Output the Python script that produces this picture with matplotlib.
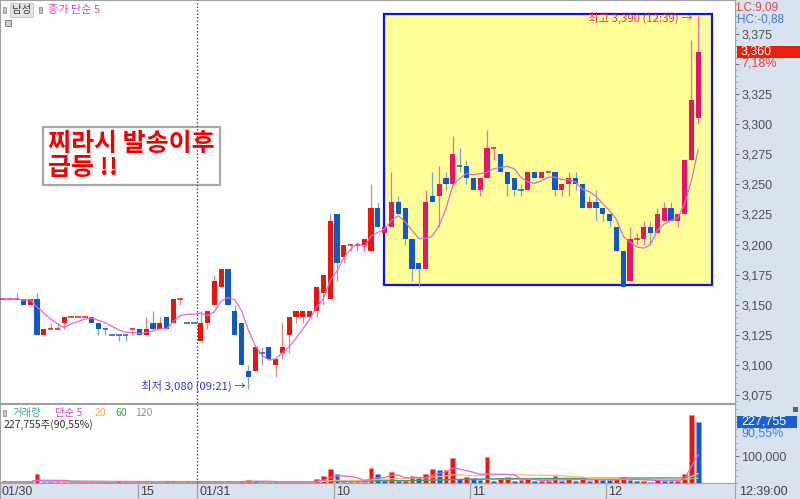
import numpy as np
import pandas as pd
import matplotlib
matplotlib.use('Agg')
from matplotlib import pyplot as plt
from matplotlib.patches import Rectangle
from matplotlib.ticker import FixedLocator, MultipleLocator, FuncFormatter

KR = ['Noto Sans CJK KR', 'DejaVu Sans']
NUM = ['Liberation Sans Narrow', 'Liberation Sans', 'DejaVu Sans']

# 3-minute candles: 01/30 afternoon (0..28) then 01/31 09:00 - 12:39 (29..102)
opens = [3155, 3155, 3155, 3155, 3150, 3155, 3125, 3130, 3130, 3135,
         3140, 3140, 3140, 3140, 3135, 3130, 3125, 3125, 3125, 3130,
         3130, 3125, 3135, 3130, 3140, 3135, 3155, 3135, 3135,
         3120, 3135, 3150, 3165, 3180, 3145, 3135, 3095, 3095, 3110,
         3115, 3100, 3110, 3125, 3140, 3140, 3140, 3145, 3160, 3155,
         3225, 3190, 3200, 3200, 3200, 3195, 3230, 3210, 3215, 3235,
         3230, 3205, 3185, 3180, 3240, 3240, 3255, 3250, 3265, 3265,
         3255, 3245, 3255, 3280, 3275, 3260, 3255, 3245, 3245, 3260,
         3255, 3260, 3260, 3245, 3250, 3255, 3250, 3230, 3235, 3230,
         3225, 3215, 3195, 3170, 3205, 3205, 3215, 3210, 3220, 3230,
         3220, 3225, 3270, 3305]
highs = [3155, 3155, 3160, 3155, 3155, 3160, 3130, 3135, 3135, 3140,
         3140, 3140, 3140, 3140, 3135, 3130, 3125, 3125, 3125, 3130,
         3130, 3140, 3145, 3140, 3140, 3155, 3155, 3135, 3135,
         3145, 3145, 3175, 3180, 3180, 3150, 3135, 3100, 3115, 3115,
         3115, 3105, 3135, 3140, 3145, 3145, 3145, 3165, 3175, 3225,
         3225, 3200, 3200, 3200, 3205, 3250, 3235, 3215, 3260, 3240,
         3230, 3205, 3185, 3245, 3260, 3265, 3260, 3290, 3280, 3270,
         3255, 3255, 3295, 3280, 3275, 3260, 3255, 3250, 3260, 3260,
         3260, 3260, 3260, 3250, 3260, 3260, 3250, 3240, 3245, 3230,
         3225, 3215, 3195, 3215, 3210, 3220, 3220, 3230, 3235, 3235,
         3225, 3270, 3370, 3390]
lows = [3155, 3155, 3155, 3150, 3150, 3125, 3125, 3130, 3130, 3130,
        3140, 3140, 3140, 3135, 3125, 3125, 3125, 3120, 3120, 3125,
        3125, 3125, 3130, 3130, 3130, 3135, 3150, 3135, 3135,
        3120, 3130, 3150, 3165, 3150, 3125, 3100, 3080, 3095, 3100,
        3105, 3090, 3105, 3110, 3135, 3135, 3140, 3140, 3150, 3155,
        3170, 3185, 3195, 3195, 3195, 3195, 3215, 3210, 3215, 3225,
        3200, 3170, 3165, 3180, 3235, 3215, 3245, 3250, 3260, 3250,
        3245, 3240, 3255, 3270, 3260, 3240, 3240, 3240, 3245, 3255,
        3255, 3260, 3240, 3240, 3240, 3245, 3230, 3230, 3220, 3220,
        3215, 3195, 3165, 3170, 3200, 3200, 3200, 3210, 3220, 3220,
        3215, 3225, 3270, 3300]
closes = [3155, 3155, 3155, 3150, 3155, 3125, 3130, 3130, 3130, 3140,
          3140, 3140, 3140, 3135, 3130, 3130, 3125, 3125, 3125, 3130,
          3125, 3130, 3130, 3135, 3130, 3155, 3155, 3135, 3135,
          3135, 3145, 3170, 3180, 3150, 3125, 3100, 3090, 3115, 3110,
          3105, 3105, 3115, 3140, 3145, 3145, 3145, 3165, 3175, 3220,
          3185, 3200, 3200, 3200, 3205, 3230, 3215, 3215, 3235, 3225,
          3205, 3180, 3180, 3235, 3235, 3250, 3250, 3275, 3265, 3255,
          3245, 3255, 3280, 3280, 3260, 3250, 3245, 3245, 3260, 3255,
          3260, 3260, 3245, 3250, 3255, 3250, 3230, 3235, 3230, 3225,
          3220, 3195, 3165, 3205, 3205, 3215, 3210, 3225, 3230, 3220,
          3225, 3270, 3320, 3360]
volumes = [5000, 3000, 4000, 6000, 3000, 33000, 5000, 3000, 4000, 5000,
           3000, 2000, 3000, 4000, 5000, 3000, 2000, 8000, 3000, 4000,
           3000, 5000, 4000, 3000, 8000, 6000, 3000, 6000, 2000,
           8000, 4000, 5000, 4000, 3000, 4000, 9000, 9500, 6000, 3000,
           4000, 3000, 4000, 5000, 3000, 4000, 3000, 15000, 26000, 52000,
           33000, 5000, 3000, 4000, 3000, 55000, 33000, 8000, 41000, 8000,
           9000, 26000, 22000, 33000, 52000, 48000, 50000, 92000, 15000, 22000,
           20000, 12000, 95000, 8000, 20000, 22000, 8000, 12000, 15000, 6000,
           7000, 8000, 26000, 6000, 15000, 6000, 22000, 6000, 15000, 12000,
           10000, 15000, 22000, 12000, 6000, 8000, 5000, 15000, 8000, 6000,
           9000, 33000, 252000, 227755]

tick_pos = [-0.5, 19.75, 28.5, 48.5, 68.5, 88.5]
tick_labels = ['01/30', '15', '01/31', '10', '11', '12']
day_break = 28.5
box_start = 56

UP, DN = '#E8170C', '#1258C2'
UP_BOX = '#E6156A'
UP_WICK, DN_WICK, UP_WICK_BOX = '#F08070', '#7AA2DA', '#EE6E9E'
PANEL = '#D9E3EF'

n = len(closes)
idx = np.arange(n)
o = np.array(opens, float)
h = np.array(highs, float)
l = np.array(lows, float)
c = np.array(closes, float)
v = np.array(volumes, float)

# candle direction (doji takes direction from the previous close)
direction = []
prev_dir, prev_c = 1, c[0]
for oi, ci in zip(o, c):
    if ci > oi or (ci == oi and ci > prev_c):
        d = 1
    elif ci < oi or (ci == oi and ci < prev_c):
        d = -1
    else:
        d = prev_dir
    direction.append(d)
    prev_dir, prev_c = d, ci
direction = np.array(direction)
in_box = idx >= box_start

body_col = np.where(direction > 0, np.where(in_box, UP_BOX, UP), DN)
wick_col = np.where(direction > 0, np.where(in_box, UP_WICK_BOX, UP_WICK), DN_WICK)

ma5 = pd.Series(c).rolling(5, min_periods=1).mean()

fig = plt.figure(figsize=(8, 4.99), dpi=100)
fig.patch.set_facecolor(PANEL)

def fx(px):
    return px / 800

def fy(py):
    return 1 - py / 499

ax = fig.add_axes([0, fy(403), fx(735), 403 / 499])
axv = fig.add_axes([0, fy(483), fx(735), 79 / 499], sharex=ax)
axt = fig.add_axes([0, 0, fx(735), 16 / 499], sharex=ax)

ax.set_xlim(-0.44, 107.4)
ax.set_ylim(3068.3, 3403.3)

# highlight box
top = h[box_start:].max() + 1.5
bot = l[box_start:].min() + 1.4
ax.add_patch(Rectangle((box_start - 0.1, bot), 104.05 - box_start + 0.1, top - bot,
                       facecolor='#FFFF99', edgecolor='#0A14E6', lw=1.6, zorder=1))

ax.vlines(idx, l, h, colors=wick_col, lw=0.9, zorder=3)
body = o != c
ax.bar(idx[body], np.abs(c - o)[body], bottom=np.minimum(o, c)[body], width=0.76,
       color=body_col[body], lw=0, zorder=4)
ax.hlines(c[~body], idx[~body] - 0.4, idx[~body] + 0.4, colors=body_col[~body], lw=1.1, zorder=4)
ax.plot(idx, ma5, color='#E466D2', lw=0.9, zorder=5)

ax.axvline(day_break, color='#444444', ls=(0, (1.2, 1.6)), lw=0.9, zorder=8)
axv.axvline(day_break, color='#444444', ls=(0, (1.2, 1.6)), lw=0.9, zorder=8)

# annotations for high / low
hi_i = int(np.argmax(h))
lo_i = int(np.argmin(l))
ax.text(hi_i - 0.8, h[hi_i] - 2, '최고 3,390 (12:39) →', color='#E8305A', fontsize=8.2,
        family=KR, ha='right', va='center', zorder=6)
ax.text(lo_i - 0.4, l[lo_i] + 2.5, '최저 3,080 (09:21) →', color='#2A3CD8', fontsize=8.2,
        family=KR, ha='right', va='center', zorder=6)

ax.text(fx(48), fy(156), '찌라시 발송이후\n급등 !!', transform=fig.transFigure, color='#F00000',
        fontsize=18, fontweight='bold', family=KR, ha='left', va='center', linespacing=0.98,
        bbox=dict(boxstyle='square,pad=0.2', fc='white', ec='#A8A8A8', lw=1.6), zorder=6)

# price axis on the right
ax.yaxis.tick_right()
ax.yaxis.set_major_locator(FixedLocator(np.arange(3075, 3400, 25)))
ax.yaxis.set_minor_locator(MultipleLocator(5))
ax.yaxis.set_major_formatter(FuncFormatter(lambda y, p: '' if y == 3350 else f'{y:,.0f}'))
ax.tick_params(axis='y', which='major', length=3, width=0.8, color='#707070', pad=1.5,
               labelsize=9, labelcolor='#505050')
ax.tick_params(axis='y', which='minor', length=1.5, width=0.6, color='#909090')
for t in ax.get_yticklabels():
    t.set_family(NUM)
ax.tick_params(axis='x', which='both', bottom=False, labelbottom=False)
ax.set_facecolor('white')
for s in ax.spines.values():
    s.set_color('#A0A0A0')
    s.set_linewidth(0.8)

# volume panel
v_prev = np.concatenate([[v[0]], v[:-1]])
vcol = np.where(v >= v_prev, '#E81810', '#1258C8')
vedge = np.where(v >= v_prev, '#F28A84', '#86A8DE')
axv.bar(idx, v, width=0.7, color=vcol, edgecolor=vedge, lw=0.6, zorder=3)
for k, col in [(120, '#A8A8A8'), (60, '#3CA060'), (20, '#F2C060'), (5, '#E466D2')]:
    axv.plot(idx, pd.Series(v).rolling(k, min_periods=1).mean(), color=col, lw=0.9, zorder=4)
axv.set_ylim(0, 292600)
axv.yaxis.tick_right()
axv.yaxis.set_major_locator(FixedLocator([100000]))
axv.yaxis.set_minor_locator(MultipleLocator(25000))
axv.yaxis.set_major_formatter(FuncFormatter(lambda y, p: f'{y:,.0f}'))
axv.tick_params(axis='y', which='major', length=3, width=0.8, color='#707070', pad=1.5,
                labelsize=9, labelcolor='#505050')
axv.tick_params(axis='y', which='minor', length=1.5, width=0.6, color='#909090')
for t in axv.get_yticklabels():
    t.set_family(NUM)
axv.tick_params(axis='x', which='both', bottom=False, labelbottom=False)
axv.set_facecolor('white')
for s in axv.spines.values():
    s.set_color('#A0A0A0')
    s.set_linewidth(0.8)

# time strip
axt.set_facecolor(PANEL)
axt.set_ylim(0, 1)
axt.set_xticks([])
axt.set_yticks([])
for s in axt.spines.values():
    s.set_color('#A0A0A0')
    s.set_linewidth(0.8)
for pos, lab in zip(tick_pos, tick_labels):
    axt.axvline(pos, color='#A0A0A0', lw=0.9)
    axt.text(pos + 0.3, 0.45, lab, fontsize=9, color='#404040', family=NUM, va='center', ha='left')
fig.text(fx(739), fy(492), '12:39:00', fontsize=9, color='#404040', family=NUM, va='center')

# header texts
fig.text(fx(12), fy(10), '남성', fontsize=7.5, color='#404040', family=KR, va='center',
         bbox=dict(boxstyle='square,pad=0.15', fc='#E4E4E4', ec='#C0C0C0', lw=0.6))
fig.patches.append(Rectangle((fx(3), fy(13)), fx(3), 6 / 499, transform=fig.transFigure,
                             fc='#C8C8C8', ec='#808080', lw=0.5))
fig.patches.append(Rectangle((fx(39), fy(13)), fx(3), 6 / 499, transform=fig.transFigure,
                             fc='#C8C8C8', ec='#808080', lw=0.5))
fig.patches.append(Rectangle((fx(5), fy(26)), fx(6), 6 / 499, transform=fig.transFigure,
                             fc='#D0D0D0', ec='#707070', lw=0.6))
fig.text(fx(48), fy(10), '종가 단순 5', fontsize=8, color='#E040C8', family=KR, va='center')

fig.patches.append(Rectangle((fx(3), fy(416)), fx(2.5), 6 / 499, transform=fig.transFigure,
                             fc='#C8C8C8', ec='#808080', lw=0.5))
vx = 12
for txt, col, w in [('거래량', '#3AA5A8', 43), ('단순 5', '#E040C8', 40), ('20', '#F0B040', 20),
                    ('60', '#30A050', 20), ('120', '#909090', 25)]:
    fig.text(fx(vx), fy(413), txt, fontsize=7.5, color=col, family=KR, va='center')
    vx += w
fig.text(fx(4), fy(425), '227,755주(90,55%)', fontsize=7.5, color='#303030', family=KR, va='center')

# right panel labels
fig.text(fx(737), fy(8), 'LC:9,09', fontsize=8.5, color='#E04848', family=NUM, va='center')
fig.text(fx(737), fy(20), 'HC:-0,88', fontsize=8.5, color='#4676D2', family=NUM, va='center')
fig.patches.append(Rectangle((fx(737), fy(58)), fx(63), 12 / 499, transform=fig.transFigure,
                             fc='#E8200C', ec='none'))
fig.text(fx(741), fy(52), '3,360', fontsize=9, color='white', family=NUM, va='center')
fig.text(fx(741), fy(64), '7,18%', fontsize=9, color='#E04040', family=NUM, va='center')
fig.patches.append(Rectangle((fx(737), fy(428)), fx(60), 12 / 499, transform=fig.transFigure,
                             fc='#1C5FD0', ec='none'))
fig.text(fx(741), fy(422), '227,755', fontsize=9, color='white', family=NUM, va='center')
fig.text(fx(741), fy(433), '90,55%', fontsize=9, color='#3C7CE0', family=NUM, va='center')
fig.patches.append(Rectangle((fx(793), fy(412)), fx(5), 5 / 499, transform=fig.transFigure,
                             fc='#606060', ec='none'))

fig.savefig('out.png', dpi=100, facecolor=fig.get_facecolor())
